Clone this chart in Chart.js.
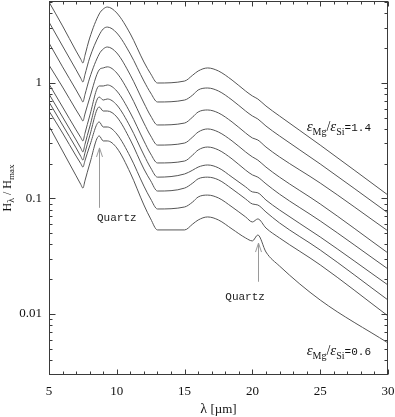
<!DOCTYPE html>
<html><head><meta charset="utf-8">
<script src="https://cdn.jsdelivr.net/npm/chart.js@4.4.0/dist/chart.umd.min.js"></script>
<style>html,body{margin:0;padding:0;background:#fff;}canvas{display:block;}</style>
</head><body>
<canvas id="c" width="395" height="417"></canvas>
<script>
// wavelength grid (micron)
const wavelengths = [5, 6, 7, 7.35, 7.5, 7.65, 8, 8.7, 9.0, 9.3, 10, 11, 12, 12.5, 13, 15, 15.6, 16, 16.7, 17.5, 18.5, 19.5, 20, 20.4, 21, 22, 25, 30];
// H_lambda / H_max for eps_Mg/eps_Si = 1.4 ... 0.6
const ratio14 = [5.03, 3.12, 1.89, 1.60, 1.49, 1.73, 2.45, 3.96, 4.37, 4.55, 4.04, 2.66, 1.52, 1.20, 1.00, 1.04, 1.17, 1.27, 1.35, 1.27, 1.06, 0.852, 0.772, 0.727, 0.632, 0.518, 0.290, 0.107];
const ratio13 = [3.37, 2.09, 1.30, 1.096, 1.02, 1.178, 1.65, 2.60, 2.94, 3.05, 2.71, 1.78, 1.04, 0.819, 0.685, 0.712, 0.787, 0.870, 0.905, 0.852, 0.712, 0.572, 0.518, 0.488, 0.424, 0.348, 0.199, 0.0749];
const ratio12 = [2.22, 1.38, 0.870, 0.736, 0.685, 0.791, 1.105, 1.78, 1.97, 2.05, 1.82, 1.17, 0.671, 0.518, 0.433, 0.450, 0.508, 0.561, 0.584, 0.550, 0.460, 0.369, 0.334, 0.321, 0.279, 0.229, 0.136, 0.0523];
const ratio11 = [1.43, 0.923, 0.584, 0.501, 0.469, 0.538, 0.742, 1.30, 1.35, 1.38, 1.22, 0.787, 0.450, 0.348, 0.290, 0.302, 0.341, 0.376, 0.400, 0.376, 0.315, 0.253, 0.229, 0.215, 0.187, 0.153, 0.0896, 0.0337];
const ratio10 = [0.980, 0.620, 0.392, 0.336, 0.315, 0.366, 0.518, 0.942, 0.942, 0.961, 0.852, 0.550, 0.315, 0.243, 0.203, 0.211, 0.238, 0.263, 0.279, 0.263, 0.220, 0.176, 0.160, 0.153, 0.134, 0.109, 0.0639, 0.0245];
const ratio09 = [0.803, 0.508, 0.321, 0.272, 0.253, 0.294, 0.416, 0.756, 0.712, 0.727, 0.645, 0.416, 0.238, 0.184, 0.153, 0.163, 0.176, 0.187, 0.195, 0.184, 0.153, 0.126, 0.114, 0.112, 0.0970, 0.0795, 0.0464, 0.0178];
const ratio08 = [0.685, 0.433, 0.274, 0.231, 0.215, 0.248, 0.348, 0.620, 0.572, 0.572, 0.508, 0.321, 0.180, 0.142, 0.116, 0.123, 0.136, 0.148, 0.153, 0.145, 0.121, 0.0990, 0.0896, 0.0878, 0.0764, 0.0614, 0.0358, 0.0132];
const ratio07 = [0.572, 0.369, 0.233, 0.200, 0.187, 0.212, 0.285, 0.460, 0.416, 0.416, 0.362, 0.229, 0.128, 0.0990, 0.0811, 0.0844, 0.0933, 0.103, 0.107, 0.101, 0.0844, 0.0692, 0.0626, 0.0665, 0.0555, 0.0455, 0.0266, 0.00961];
const ratio06 = [0.424, 0.258, 0.157, 0.132, 0.123, 0.142, 0.199, 0.348, 0.315, 0.315, 0.274, 0.166, 0.0878, 0.0665, 0.0534, 0.0534, 0.0601, 0.0651, 0.0692, 0.0651, 0.0544, 0.0455, 0.0429, 0.0483, 0.0344, 0.0260, 0.0132, 0.00561];
const seriesNames = ['1.4', '1.3', '1.2', '1.1', '1.0', '0.9', '0.8', '0.7', '0.6'];
const seriesValues = [ratio14, ratio13, ratio12, ratio11, ratio10, ratio09, ratio08, ratio07, ratio06];

// axes
const xMin = 5, xMax = 30;
const xTickLabels = [5, 10, 15, 20, 25, 30];
const xMinorTicks = [5,6,7,8,9,10,11,12,13,14,15,16,17,18,19,20,21,22,23,24,25,26,27,28,29,30];
const yMin = 0.00296, yMax = 5.13;
const yTickLabels = [0.01, 0.1, 1];
const yTickText = ['0.01', '0.1', '1'];
const yMinorTicks = [0.003,0.004,0.005,0.006,0.007,0.008,0.009,0.01,0.02,0.03,0.04,0.05,0.06,0.07,0.08,0.09,0.1,0.2,0.3,0.4,0.5,0.6,0.7,0.8,0.9,1,2,3,4,5];

// annotations (data coordinates)
const quartzNotes = [
  {x: 8.69, from: 0.083, to: 0.274, textX: 8.54, textY: 0.068},
  {x: 20.41, from: 0.019, to: 0.0411, textX: 18.0, textY: 0.0140}
];
const ratioNotes = [
  {x: 24.0, y: 0.384, text: '1.4'},
  {x: 24.0, y: 0.00442, text: '0.6'}
];

const lineColor = '#555555';
const serif = '"Liberation Serif", "DejaVu Serif", serif';
const mono = '"Liberation Mono", "DejaVu Sans Mono", monospace';

function drawRich(ctx, parts, x, y) {
  let cx = x;
  for (const p of parts) {
    ctx.font = p.font;
    ctx.fillText(p.t, cx, y + (p.dy || 0));
    cx += ctx.measureText(p.t).width;
  }
  return cx - x;
}
function richWidth(ctx, parts) {
  let w = 0;
  for (const p of parts) { ctx.font = p.font; w += ctx.measureText(p.t).width; }
  return w;
}

const decor = {
  id: 'decor',
  afterDraw(chart) {
    const {ctx, chartArea: a, scales: {x, y}} = chart;
    ctx.save();
    const L = Math.round(a.left) + 0.5, R = Math.round(a.right) - 0.5;
    const T = Math.round(a.top) + 0.5, B = Math.round(a.bottom) - 0.5;
    ctx.strokeStyle = '#3a3a3a';
    ctx.lineWidth = 1;
    ctx.strokeRect(L, T, R - L, B - T);
    ctx.beginPath();
    for (const v of xMinorTicks) {
      const px = Math.round(x.getPixelForValue(v)) + 0.5;
      const len = v % 5 === 0 ? 5 : 3;
      ctx.moveTo(px, B); ctx.lineTo(px, B - len);
      ctx.moveTo(px, T); ctx.lineTo(px, T + len);
    }
    for (const v of yMinorTicks) {
      const py = Math.round(y.getPixelForValue(v)) + 0.5;
      const lg = Math.log10(v);
      const len = Math.abs(lg - Math.round(lg)) < 1e-6 ? 6 : 3;
      ctx.moveTo(L, py); ctx.lineTo(L + len, py);
      ctx.moveTo(R, py); ctx.lineTo(R - len, py);
    }
    ctx.stroke();

    // quartz arrows
    ctx.strokeStyle = '#9a9a9a';
    ctx.fillStyle = '#222';
    for (const q of quartzNotes) {
      const px = Math.round(x.getPixelForValue(q.x)) + 0.5;
      const y0 = y.getPixelForValue(q.from), y1 = y.getPixelForValue(q.to);
      ctx.beginPath();
      ctx.moveTo(px, y0); ctx.lineTo(px, y1);
      ctx.moveTo(px - 3, y1 + 9); ctx.lineTo(px, y1); ctx.lineTo(px + 3, y1 + 9);
      ctx.stroke();
      ctx.font = '11px ' + mono;
      ctx.textBaseline = 'middle';
      ctx.textAlign = 'left';
      ctx.fillText('Quartz', x.getPixelForValue(q.textX), y.getPixelForValue(q.textY));
    }
    // ratio labels
    ctx.textBaseline = 'alphabetic';
    ctx.fillStyle = '#111';
    for (const r of ratioNotes) {
      const parts = [
        {t: 'ε', font: 'italic 15px ' + serif},
        {t: 'Mg', font: '10px ' + serif, dy: 4},
        {t: '/', font: '14px ' + serif},
        {t: 'ε', font: 'italic 15px ' + serif},
        {t: 'Si', font: '10px ' + serif, dy: 4},
        {t: '=' + r.text, font: '11px ' + mono}
      ];
      drawRich(ctx, parts, x.getPixelForValue(r.x), y.getPixelForValue(r.y));
    }
    // x title
    const xt = [{t: 'λ', font: '14px ' + serif}, {t: ' [µm]', font: '13px ' + serif}];
    const xw = richWidth(ctx, xt);
    drawRich(ctx, xt, (a.left + a.right) / 2 - xw / 2, chart.height - 4);
    // y title
    const yt = [
      {t: 'H', font: '12px ' + serif},
      {t: 'λ', font: '10px ' + serif, dy: 3},
      {t: ' / ', font: '12px ' + serif},
      {t: 'H', font: '12px ' + serif},
      {t: 'max', font: '9px ' + serif, dy: 3}
    ];
    const yw = richWidth(ctx, yt);
    ctx.translate(11, (a.top + a.bottom) / 2);
    ctx.rotate(-Math.PI / 2);
    drawRich(ctx, yt, -yw / 2, 0);
    ctx.restore();
  }
};

const datasets = seriesValues.map((vals, i) => ({
  label: seriesNames[i],
  data: wavelengths.map((w, j) => ({x: w, y: vals[j]})),
  borderColor: lineColor,
  borderWidth: 1,
  pointRadius: 0,
  fill: false,
  cubicInterpolationMode: 'monotone'
}));

new Chart(document.getElementById('c'), {
  type: 'line',
  data: {datasets},
  options: {
    responsive: false,
    animation: false,
    events: [],
    layout: {padding: {left: 0, right: 7, top: 1, bottom: 0}},
    plugins: {legend: {display: false}, tooltip: {enabled: false}},
    scales: {
      x: {
        type: 'linear', min: xMin, max: xMax,
        afterBuildTicks: s => { s.ticks = xTickLabels.map(v => ({value: v})); },
        afterFit: s => { s.height = 42; s.paddingLeft = 0; s.paddingRight = 0; },
        grid: {display: false, drawTicks: false},
        border: {display: false},
        ticks: {autoSkip: false, maxRotation: 0, padding: 9, color: '#111', font: {family: serif, size: 13}, callback: v => String(v)}
      },
      y: {
        type: 'logarithmic', min: yMin, max: yMax,
        afterBuildTicks: s => { s.ticks = yTickLabels.map(v => ({value: v})); },
        afterFit: s => { s.width = 49; s.paddingTop = 0; s.paddingBottom = 0; },
        grid: {display: false, drawTicks: false},
        border: {display: false},
        ticks: {autoSkip: false, padding: 7, color: '#111', font: {family: serif, size: 13},
          callback: v => { const i = yTickLabels.findIndex(t => Math.abs(t - v) < t * 1e-6); return i >= 0 ? yTickText[i] : ''; }}
      }
    }
  },
  plugins: [decor]
});
</script>
</body></html>
